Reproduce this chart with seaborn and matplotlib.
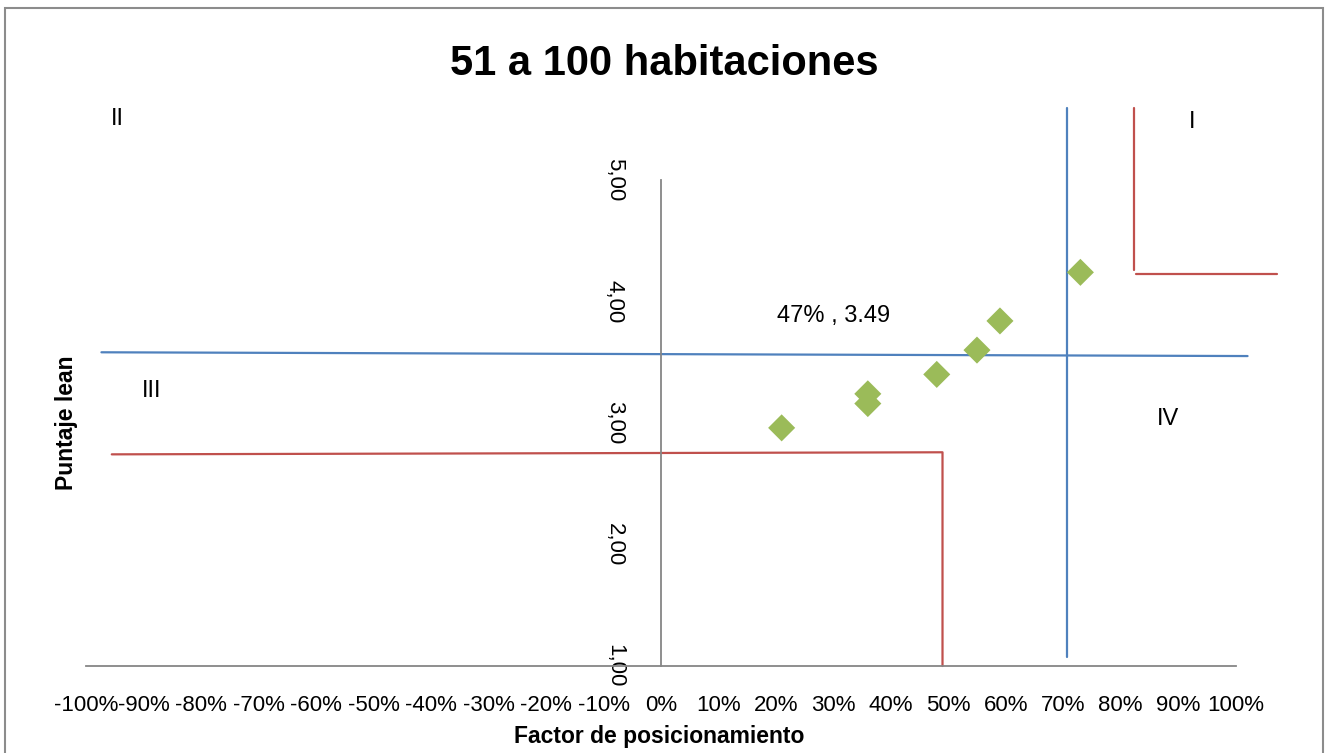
import numpy as np
import pandas as pd
import matplotlib
matplotlib.use("Agg")
import matplotlib.pyplot as plt
import seaborn as sns
from matplotlib.patches import Rectangle

# hotel positions: factor de posicionamiento vs puntaje lean
factor = [0.21, 0.36, 0.36, 0.48, 0.55, 0.59, 0.73]
puntaje = [2.96, 3.24, 3.16, 3.40, 3.60, 3.84, 4.24]

# quadrant guide lines (endpoints in data units)
blue_h_x = [-0.974, 1.021]
blue_h_y = [3.582, 3.551]
blue_v_x = [0.706, 0.706]
blue_v_y = [5.593, 1.074]
red_low_x = [-0.956, 0.490, 0.490]
red_low_y = [2.742, 2.759, 1.0]
red_up_x = [0.823, 0.823]
red_up_y = [5.593, 4.259]
red_up_h_x = [0.826, 1.072]
red_up_h_y = [4.226, 4.226]

x_ticks = np.round(np.arange(-1.0, 1.01, 0.1), 1)
x_tick_labels = ["-100%", "-90%", "-80%", "-70%", "-60%", "-50%", "-40%", "-30%",
                 "-20%", "-10%", "0%", "10%", "20%", "30%", "40%", "50%", "60%",
                 "70%", "80%", "90%", "100%"]
y_ticks = [1, 2, 3, 4, 5]
y_tick_labels = ["1,00", "2,00", "3,00", "4,00", "5,00"]

quad_labels = ["II", "I", "III", "IV"]
quad_x = [-0.947, 0.924, -0.887, 0.883]
quad_y = [5.50, 5.48, 3.26, 3.03]
mean_label = "47% , 3.49"
mean_pos = (0.301, 3.88)

sns.set_style("white")
plt.rcParams["font.family"] = ["Liberation Sans", "DejaVu Sans"]
plt.rcParams["text.color"] = "black"
plt.rcParams["xtick.color"] = "black"
plt.rcParams["ytick.color"] = "black"

fig = plt.figure(figsize=(13.28, 7.53), dpi=100)
ax = fig.add_axes([0, 0, 1, 1])
ax.set_facecolor("none")
ax.set_xlim(-661 / 574.5, (1328 - 661) / 574.5)
ax.set_ylim(1 - 87 / 121.5, 1 + 666 / 121.5)

blue = "#4F81BD"
red = "#C0504D"
ax.plot(blue_h_x, blue_h_y, color=blue, lw=1.6)
ax.plot(blue_v_x, blue_v_y, color=blue, lw=1.6)
ax.plot(red_low_x, red_low_y, color=red, lw=1.6)
ax.plot(red_up_x, red_up_y, color=red, lw=1.6)
ax.plot(red_up_h_x, red_up_h_y, color=red, lw=1.6)

df = pd.DataFrame({"factor": factor, "puntaje": puntaje})
sns.scatterplot(data=df, x="factor", y="puntaje", marker="D", s=190,
                color="#9BBB59", edgecolor="none", ax=ax, zorder=5)

for lab, qx, qy in zip(quad_labels, quad_x, quad_y):
    ax.text(qx, qy, lab, fontsize=17, ha="center", va="center", color="black")
ax.text(mean_pos[0], mean_pos[1], mean_label, fontsize=17, ha="center",
        va="center", color="black")

# axes crossing at the origin like the excel chart
for s in ["top", "right"]:
    ax.spines[s].set_visible(False)
ax.spines["left"].set_position(("data", 0))
ax.spines["bottom"].set_position(("data", 1))
ax.spines["left"].set_bounds(1, 5)
ax.spines["bottom"].set_bounds(-1, 1)
for s in ["left", "bottom"]:
    ax.spines[s].set_color("#868686")
    ax.spines[s].set_linewidth(1.3)

ax.set_xticks(x_ticks)
ax.set_xticklabels(x_tick_labels)
ax.set_yticks(y_ticks)
ax.set_yticklabels(y_tick_labels)
ax.tick_params(axis="x", length=0, pad=21, labelsize=16, labelcolor="black")
ax.tick_params(axis="y", length=0, pad=26, labelsize=16, rotation=-90,
               labelcolor="black")
plt.setp(ax.get_yticklabels(), va="center")
ax.set_xlabel("")
ax.set_ylabel("")

fig.text(664.5 / 1328, 1 - 75 / 753, "51 a 100 habitaciones", fontsize=30,
         fontweight="bold", ha="center", va="baseline", color="black")
fig.text(659 / 1328, 1 - 737 / 753, "Factor de posicionamiento", fontsize=16.5,
         fontweight="bold", ha="center", va="center", color="black")
fig.text(66 / 1328, 1 - 423 / 753, "Puntaje lean", fontsize=16.5,
         fontweight="bold", ha="center", va="center", rotation=90, color="black")

fig.patches.append(Rectangle((5 / 1328, -0.02), 1318 / 1328, 1.02 - 8 / 753,
                             transform=fig.transFigure, fill=False,
                             edgecolor="#8C8C8C", lw=1.5))

fig.savefig("out.png", dpi=100)
